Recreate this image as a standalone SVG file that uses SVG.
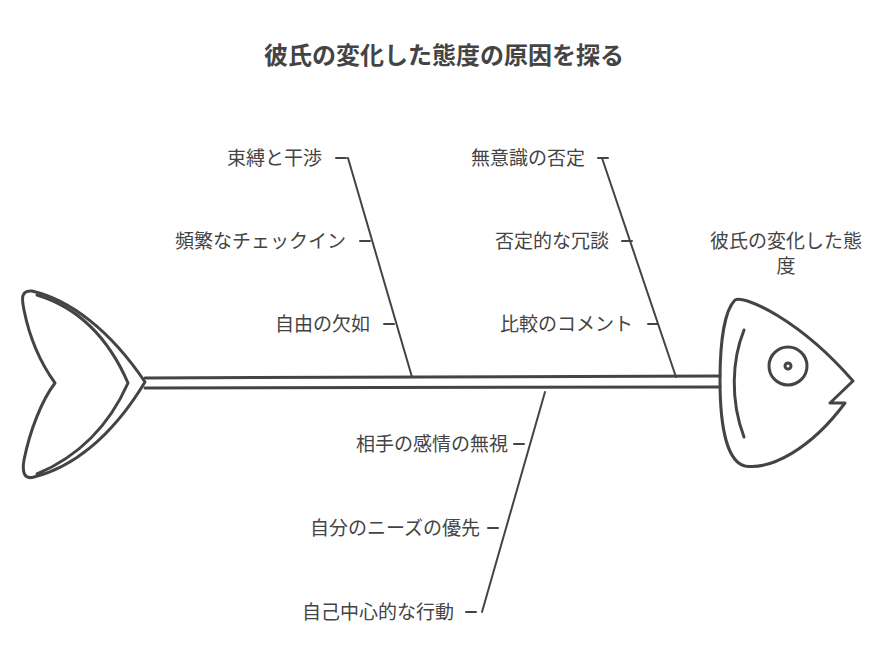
<svg xmlns="http://www.w3.org/2000/svg" width="894" height="672" viewBox="0 0 894 672">
<style>
.s{fill:none;stroke:#444;stroke-width:3;stroke-linecap:round;stroke-linejoin:round}
.b{fill:none;stroke:#444;stroke-width:2;stroke-linecap:round}
text{font-family:"Noto Sans CJK JP","Noto Sans",sans-serif;fill:#444;font-size:19px}
.l{text-anchor:end}
.t{font-size:24px;font-weight:bold}
</style>
<rect width="894" height="672" fill="#fff"/>
<text class="t" x="444" y="64" text-anchor="middle">彼氏の変化した態度の原因を探る</text>
<g id="tail">
<path class="s" d="M145,382 C110,330 70,300 32,291 C20,290 22,300 24,310 C30,340 42,365 55,383 C42,400 30,430 24,460 C22,472 24,480 34,477 C70,468 110,440 145,382 Z"/>
<path class="s" d="M37,295 C70,305 105,330 128,383 C105,435 70,460 37,474"/>
</g>
<g id="spine">
<path class="s" d="M145,378 L720,376 M145,388 L720,387"/>
</g>
<g id="head">
<path class="s" d="M720,380 C720,340 725,310 735,300 C745,295 800,320 853,381 L830,403 L845,403 C810,450 770,470 745,466 C728,462 720,430 720,380 Z"/>
<path class="s" d="M744,330 C732,360 730,400 744,437"/>
<circle class="s" cx="788" cy="366" r="19"/>
<circle class="s" cx="788" cy="366" r="3"/>
<text x="786" y="248" text-anchor="middle">彼氏の変化した態</text>
<text x="786" y="273" text-anchor="middle">度</text>
</g>
<g id="connectors">
<path class="b" d="M348,158 L412,377 M336,158 L346,158 M360,241 L370,241 M384,324 L394,324"/>
<path class="b" d="M602,158 L676,377 M598,158 L608,158 M622,241 L632,241 M648,324 L658,324"/>
<path class="b" d="M545,392 L482,612 M514,444 L524,444 M488,528 L498,528 M466,612 L476,612"/>
</g>
<g id="n1"><text class="l" x="322" y="165">束縛と干渉</text></g>
<g id="n2"><text class="l" x="346" y="248">頻繁なチェックイン</text></g>
<g id="n3"><text class="l" x="370" y="331">自由の欠如</text></g>
<g id="n4"><text class="l" x="585" y="165">無意識の否定</text></g>
<g id="n5"><text class="l" x="609" y="248">否定的な冗談</text></g>
<g id="n6"><text class="l" x="633" y="331">比較のコメント</text></g>
<g id="n7"><text class="l" x="508" y="451">相手の感情の無視</text></g>
<g id="n8"><text class="l" x="480" y="535">自分のニーズの優先</text></g>
<g id="n9"><text class="l" x="454" y="619">自己中心的な行動</text></g>
</svg>
